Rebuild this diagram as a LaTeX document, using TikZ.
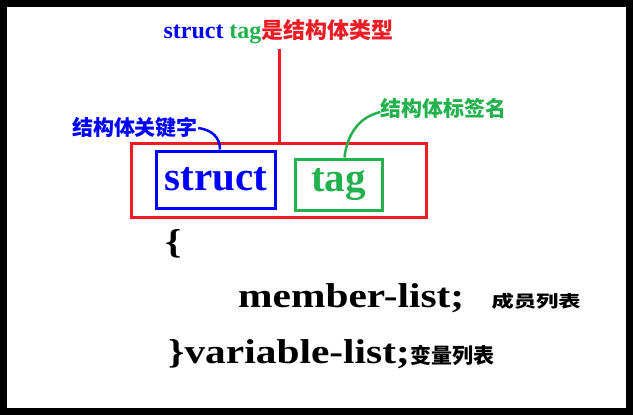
\documentclass[tikz,border=0pt]{standalone}
\usepackage{fontspec}
\setmainfont{Liberation Serif}
\newfontfamily\widefont[FakeStretch=1.2]{Liberation Serif}
\newfontfamily\cjk{Noto Sans CJK SC}
\newfontfamily\widecjk[FakeStretch=1.35]{Noto Sans CJK SC}
\definecolor{pred}{RGB}{237,28,36}
\definecolor{pblue}{RGB}{0,0,255}
\definecolor{pgreen}{RGB}{34,177,76}

\begin{document}
\begin{tikzpicture}[x=1pt,y=-1pt]
    \tikzstyle{box}=[draw, line width=3pt, inner sep=0pt, font=\fontsize{41}{41}\bfseries];
    \tikzstyle{code}=[anchor=base west, inner sep=0pt, font=\widefont\fontsize{34.5}{34.5}\bfseries];
    \tikzstyle{note}=[inner sep=0pt, font=\cjk\fontsize{21}{21}\bfseries];
    \tikzstyle{link}=[line width=2.5pt];

    \useasboundingbox (0,0) rectangle (633,415);
    \draw[line width=7pt] (3.5,3.5) rectangle (629.5,411.5);

    \node (title) at (278.5,38) [anchor=base, inner sep=0pt, font=\fontsize{24}{24}\bfseries] {\textcolor{pblue}{struct} \textcolor{pgreen}{tag}\textcolor{pred}{\cjk\fontsize{22}{22}\selectfont 是结构体类型}};

    \node (redbox) at (279,180.5) [draw=pred, line width=3pt, minimum width=295pt, minimum height=74pt] {};
    \node (structbox) at (216,179.5) [box, draw=pblue, text=pblue, minimum width=119pt, minimum height=57pt] {struct};
    \node (tagbox) at (338.5,184.5) [box, draw=pgreen, text=pgreen, minimum width=87pt, minimum height=51pt] {tag};
    \draw[pred, line width=3pt, shorten >=6pt] (redbox.north) -- (redbox.north |- title.south);

    \node (kwlabel) at (135,128) [note, text=pblue] {结构体关键字};
    \node (taglabel) at (443.5,108) [note, text=pgreen] {结构体标签名};
    \draw[link, pblue] (kwlabel.east) .. controls +(14,2) and +(0,-12) .. ([xshift=4pt]structbox.north);
    \draw[link, pgreen] ([yshift=-4pt]taglabel.west) .. controls +(-25,6) and +(2,-18) .. ([xshift=6pt]tagbox.north);

    \node (lbrace) at (165,253) [code] {\{};
    \node (members) at (238,307) [code] {member-list;};
    \node (memlabel) at ([xshift=27pt]members.base east) [anchor=base west, inner sep=0pt, font=\widecjk\fontsize{16.5}{16.5}\bfseries] {成员列表};
    \node (vars) at (168,363) [code] {\}variable-list;};
    \node (varlabel) at (vars.base east) [note, anchor=base west] {变量列表};
\end{tikzpicture}
\end{document}
